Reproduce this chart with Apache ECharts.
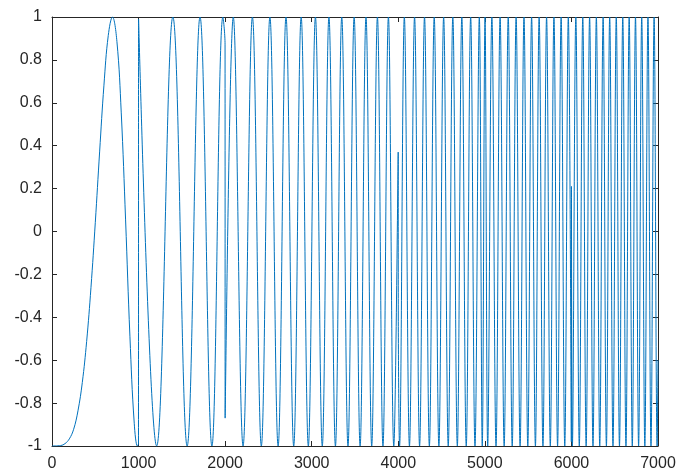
<!DOCTYPE html>
<html>
<head>
<meta charset="utf-8">
<script src="https://cdn.jsdelivr.net/npm/echarts@6/dist/echarts.min.js"></script>
<style>
  html, body { margin: 0; padding: 0; background: #ffffff; }
  #chart { width: 679px; height: 472px; }
</style>
</head>
<body>
<div id="chart"></div>
<script>
// Chirp trace: sample positions of the turning points (plus a few shape points on
// the first lobe and the one-sample jumps at the block boundaries).
const sampleIndex = [
  0, 100, 150, 200, 250, 300, 350, 400, 450, 500, 550, 600, 650, 698,
  750, 800, 850, 900, 950, 987, 999, 1000,
  1209, 1396, 1561, 1710, 1847, 1974, 1999, 2000,
  2094, 2207, 2315, 2418, 2517, 2612, 2703, 2792, 2878, 2961,
  3043, 3122, 3199, 3274, 3347, 3419, 3490, 3559, 3627, 3693, 3759, 3823, 3886, 3948, 3999, 4000,
  4015, 4070, 4129, 4188, 4246, 4303, 4359, 4415, 4469, 4524, 4577, 4630, 4682, 4734, 4785, 4836, 4886, 4936, 4970,
  5002, 5033, 5081, 5129, 5176, 5223, 5270, 5316, 5361, 5407, 5452, 5496, 5540, 5584, 5627, 5671, 5713, 5756, 5798, 5840, 5881, 5923, 5964, 5999, 6000,
  6011, 6051, 6091, 6131, 6170, 6210, 6249, 6288, 6327, 6366, 6404, 6442, 6480, 6518, 6555, 6593, 6630, 6667, 6703, 6740, 6776, 6812, 6848, 6884, 6919, 6955, 6990, 7000
];

const amplitude = [
  -1, -0.998, -0.989, -0.967, -0.922, -0.836, -0.704, -0.513, -0.262, 0.041, 0.371, 0.682, 0.914, 1,
  0.885, 0.553, 0.054, -0.488, -0.894, -1, -0.99, 0.99,
  -1, 1, -1, 1, -1, 1, 0.87, -0.87,
  1, -1, 1, -1, 1, -1, 1, -1, 1, -1,
  1, -1, 1, -1, 1, -1, 1, -1, 1, -1, 1, -1, 1, -1, 0.37, -0.37,
  -1, 1, -1, 1, -1, 1, -1, 1, -1, 1, -1, 1, -1, 1, -1, 1, -1, 1, -1,
  1, -1, 1, -1, 1, -1, 1, -1, 1, -1, 1, -1, 1, -1, 1, -1, 1, -1, 1, -1, 1, -1, 1, -0.98, 0.21,
  -1, 1, -1, 1, -1, 1, -1, 1, -1, 1, -1, 1, -1, 1, -1, 1, -1, 1, -1, 1, -1, 1, -1, 1, -1, 1, -1, -0.6
];

const xTickValues = [0, 1000, 2000, 3000, 4000, 5000, 6000, 7000];
const yTickValues = [-1, -0.8, -0.6, -0.4, -0.2, 0, 0.2, 0.4, 0.6, 0.8, 1];

const trace = sampleIndex.map((x, i) => [x, amplitude[i]]);

const ink = '#262626';
const labelFont = { fontFamily: 'Liberation Sans, Arial, sans-serif', fontSize: 16, color: ink };

const xMin = xTickValues[0];
const xMax = xTickValues[xTickValues.length - 1];
const xStep = xTickValues[1] - xTickValues[0];
const yMin = yTickValues[0];
const yMax = yTickValues[yTickValues.length - 1];
const yStep = 0.2;

// Plain numbers, no thousands separators.
const plain = (v) => String(Math.round(v * 1000) / 1000);

function boxAxis(extra) {
  return Object.assign({
    type: 'value',
    axisLine: { show: true, onZero: false, lineStyle: { color: ink, width: 1 } },
    axisTick: { show: true, inside: true, length: 5, lineStyle: { color: ink } },
    splitLine: { show: false }
  }, extra);
}

const chart = echarts.init(document.getElementById('chart'), null, { renderer: 'canvas' });
chart.setOption({
  animation: false,
  backgroundColor: '#ffffff',
  grid: { left: 52, right: 21, top: 17, bottom: 26, containLabel: false },
  xAxis: [
    boxAxis({
      position: 'bottom', min: xMin, max: xMax, interval: xStep,
      axisLabel: Object.assign({ margin: 10, formatter: plain }, labelFont)
    }),
    boxAxis({
      position: 'top', min: xMin, max: xMax, interval: xStep,
      axisLabel: { show: false }
    })
  ],
  yAxis: [
    boxAxis({
      position: 'left', min: yMin, max: yMax, interval: yStep,
      axisLabel: Object.assign({ margin: 10, formatter: plain }, labelFont)
    }),
    boxAxis({
      position: 'right', min: yMin, max: yMax, interval: yStep,
      axisLabel: { show: false }
    })
  ],
  series: [{
    type: 'line',
    xAxisIndex: 0,
    yAxisIndex: 0,
    data: trace,
    showSymbol: false,
    smooth: 0.4,
    sampling: null,
    clip: true,
    lineStyle: { color: '#0072BD', width: 1 }
  }]
});
</script>
</body>
</html>
